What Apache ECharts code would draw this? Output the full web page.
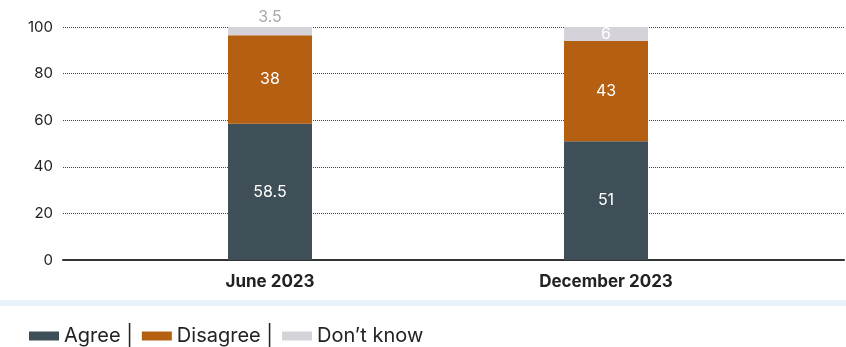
<!DOCTYPE html>
<html>
<head>
<meta charset="utf-8">
<script src="https://cdn.jsdelivr.net/npm/echarts@6/dist/echarts.min.js"></script>
<style>
  html, body { margin: 0; padding: 0; background: #fff; }
  #chart { width: 846px; height: 347px; }
</style>
</head>
<body>
<div id="chart"></div>
<script>
// Survey waves and response shares (%)
const categories = ['June 2023', 'December 2023'];
const agree = [58.5, 51];
const disagree = [38, 43];
const dontKnow = [3.5, 6];
const yTicks = [0, 20, 40, 60, 80, 100];

const FONT = 'Inter, "Open Sans", sans-serif';
const colors = { agree: '#3f4f58', disagree: '#b45f12', dontKnow: '#d6d2d9' };

// Small slices get their label above the bar in grey, others inside in white
function withLabels(values) {
  return values.map(v => v < 5
    ? { value: v, label: { position: 'top', color: '#aaa6ad', distance: 2 } }
    : { value: v });
}

function series(name, values, color) {
  return {
    name: name,
    type: 'bar',
    stack: 'total',
    xAxisIndex: 1,
    yAxisIndex: 1,
    barWidth: 84,
    itemStyle: { color: color },
    label: {
      show: true,
      position: 'inside',
      color: '#ffffff',
      fontFamily: FONT,
      fontSize: 16
    },
    data: withLabels(values)
  };
}

const chart = echarts.init(document.getElementById('chart'), null, { renderer: 'canvas' });
chart.setOption({
  animation: false,
  backgroundColor: '#ffffff',
  textStyle: { fontFamily: FONT },
  grid: [
    // full-width frame carrying the value axis and the gridlines
    { left: 63, right: 2, top: 27, bottom: 87 },
    // narrower frame holding the bars
    { left: 102, right: 72, top: 27, bottom: 87 }
  ],
  xAxis: [
    {
      type: 'category', gridIndex: 0, data: [''],
      axisLine: { show: true, lineStyle: { color: '#333333', width: 2 } },
      axisTick: { show: false }, axisLabel: { show: false }
    },
    {
      type: 'category', gridIndex: 1, data: categories,
      axisLine: { show: false }, axisTick: { show: false },
      axisLabel: { color: '#222222', fontFamily: FONT, fontWeight: 'bold', fontSize: 17, margin: 13 }
    }
  ],
  yAxis: [
    {
      type: 'value', gridIndex: 0, min: yTicks[0], max: yTicks[yTicks.length - 1], interval: 20,
      axisLine: { show: false }, axisTick: { show: false },
      axisLabel: { color: '#222222', fontSize: 15, fontFamily: FONT, margin: 10 },
      splitLine: { show: true, lineStyle: { color: '#444444', type: [1, 1], width: 1 } }
    },
    {
      type: 'value', gridIndex: 1, min: 0, max: 100,
      show: false, splitLine: { show: false }
    }
  ],
  legend: {
    left: 24, top: 321,
    itemWidth: 30, itemHeight: 9, itemGap: 9,
    icon: 'rect',
    textStyle: { color: '#222222', fontSize: 20, fontFamily: FONT },
    formatter: name => name === "Don’t know" ? name : name + ' |',
    data: ['Agree', 'Disagree', "Don’t know"]
  },
  graphic: [
    {
      type: 'rect', left: 0, top: 300, silent: true,
      shape: { width: 846, height: 6 },
      style: { fill: '#e8f3f9' }
    }
  ],
  series: [
    series('Agree', agree, colors.agree),
    series('Disagree', disagree, colors.disagree),
    series("Don’t know", dontKnow, colors.dontKnow)
  ]
});
</script>
</body>
</html>
